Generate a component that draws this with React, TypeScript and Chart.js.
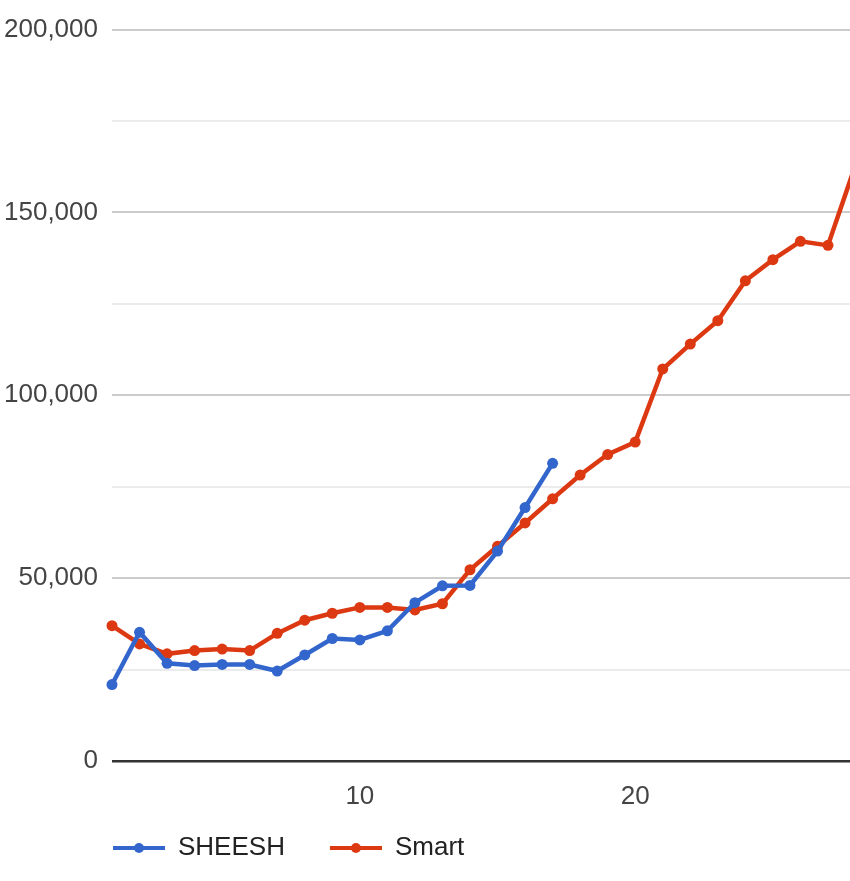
import React, { useEffect, useRef } from "react";
import { Chart, registerables } from "chart.js";

Chart.register(...registerables);

// ---- data ----
const sheeshX = [1, 2, 3, 4, 5, 6, 7, 8, 9, 10, 11, 12, 13, 14, 15, 16, 17];
const sheeshY = [20900, 35200, 26700, 26100, 26400, 26400, 24600, 29000, 33500, 33100, 35600, 43300, 47900, 48000, 57400, 69300, 81400];

const smartX = [1, 2, 3, 4, 5, 6, 7, 8, 9, 10, 11, 12, 13, 14, 15, 16, 17, 18, 19, 20, 21, 22, 23, 24, 25, 26, 27, 28];
const smartY = [37000, 32000, 29300, 30200, 30600, 30200, 34900, 38500, 40400, 42000, 42000, 41300, 43000, 52300, 58700, 65100, 71700, 78200, 83800, 87200, 107200, 114000, 120400, 131300, 137100, 142100, 141000, 163000];

const xTickValues = [10, 20];
const yTickStep = 25000;
const yLabelStep = 50000;

const seriesNames = ["SHEESH", "Smart"];
const seriesColors = ["#3366CC", "#DC3912"];

const FONT = "'Liberation Sans', Arial, sans-serif";

function legendImage(color: string): HTMLCanvasElement {
  const c = document.createElement("canvas");
  c.width = 85;
  c.height = 14;
  const g = c.getContext("2d")!;
  g.strokeStyle = color;
  g.lineWidth = 4;
  g.beginPath();
  g.moveTo(33, 7);
  g.lineTo(85, 7);
  g.stroke();
  g.fillStyle = color;
  g.beginPath();
  g.arc(59, 7, 5, 0, Math.PI * 2);
  g.fill();
  return c;
}

const legendShift = {
  id: "legendShift",
  afterLayout(chart: any) {
    if (chart.legend) chart.legend.left = 68;
  },
};

export default function App() {
  const ref = useRef<HTMLCanvasElement | null>(null);

  useEffect(() => {
    if (!ref.current) return;
    const images = seriesColors.map(legendImage);
    const chart = new Chart(ref.current, {
      type: "line",
      plugins: [legendShift],
      data: {
        datasets: [
          {
            label: seriesNames[0],
            data: sheeshX.map((x, i) => ({ x, y: sheeshY[i] })),
            borderColor: seriesColors[0],
            backgroundColor: seriesColors[0],
            borderWidth: 4.5,
            pointRadius: 5.5,
            pointBorderWidth: 0,
            pointBackgroundColor: seriesColors[0],
            clip: false as any,
            order: 1,
          },
          {
            label: seriesNames[1],
            data: smartX.map((x, i) => ({ x, y: smartY[i] })),
            borderColor: seriesColors[1],
            backgroundColor: seriesColors[1],
            borderWidth: 4.5,
            pointRadius: 5.5,
            pointBorderWidth: 0,
            pointBackgroundColor: seriesColors[1],
            clip: false as any,
            order: 2,
          },
        ],
      },
      options: {
        animation: false,
        responsive: false,
        devicePixelRatio: 1,
        layout: { autoPadding: false, padding: { left: 0, top: 25.5, right: 0, bottom: 10 } },
        plugins: {
          tooltip: { enabled: false },
          legend: {
            position: "bottom",
            align: "start",
            labels: {
              usePointStyle: true,
              pointStyleWidth: 85,
              padding: 12,
              color: "#222",
              font: { size: 26, family: FONT },
              generateLabels: (ch: any) => {
                const items = Chart.defaults.plugins.legend.labels.generateLabels(ch);
                return items.map((it: any, i: number) => ({ ...it, pointStyle: images[i] }));
              },
            },
          },
        },
        scales: {
          x: {
            type: "linear",
            min: 1,
            max: 27.8,
            grid: { display: false, drawTicks: false },
            border: { display: false },
            afterBuildTicks: (scale: any) => {
              scale.ticks = xTickValues.map((v) => ({ value: v }));
            },
            afterFit: (scale: any) => {
              scale.height = 62;
            },
            ticks: {
              padding: 20,
              color: "#444",
              font: { size: 26, family: FONT },
              maxRotation: 0,
              minRotation: 0,
              autoSkip: false,
            },
          },
          y: {
            type: "linear",
            min: 0,
            max: 200000,
            afterFit: (scale: any) => {
              scale.width = 112;
            },
            grid: {
              drawTicks: false,
              color: (ctx: any) => {
                const v = ctx.tick ? ctx.tick.value : 0;
                if (v === 0) return "#333333";
                return v % yLabelStep === 0 ? "#cccccc" : "#ebebeb";
              },
              lineWidth: (ctx: any) => {
                const v = ctx.tick ? ctx.tick.value : 0;
                return v === 0 ? 2.5 : 2;
              },
            },
            border: { display: false },
            ticks: {
              stepSize: yTickStep,
              padding: 14,
              color: "#444",
              font: { size: 26, family: FONT },
              callback: (value: any) =>
                Number(value) % yLabelStep === 0 ? Number(value).toLocaleString("en-US") : "",
            },
          },
        },
      },
    });
    return () => chart.destroy();
  }, []);

  return (
    <div style={{ position: "absolute", left: 0, top: 0, width: 850, height: 881, background: "#fff" }}>
      <canvas ref={ref} width={850} height={881} />
    </div>
  );
}
